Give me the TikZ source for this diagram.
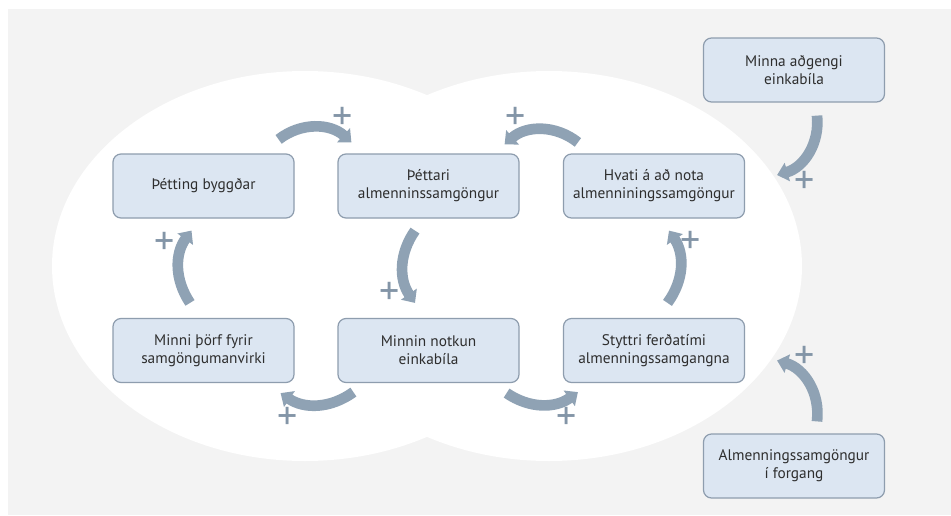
\documentclass[tikz,border=0pt]{standalone}
\usepackage{fontspec}
\setmainfont{PT Sans}
\usetikzlibrary{arrows.meta}
\definecolor{boxfill}{HTML}{DCE6F2}
\definecolor{boxline}{HTML}{8E9DAE}
\definecolor{arrowc}{HTML}{8FA2B4}
\definecolor{plusc}{HTML}{8395A7}
\definecolor{bggray}{HTML}{F3F3F3}
\definecolor{txt}{HTML}{2E2E2E}

\begin{document}
\begin{tikzpicture}[x=0.75pt,y=-0.75pt,
  box/.style={draw=boxline,line width=0.9pt,fill=boxfill,rounded corners=6pt,
    minimum width=135.75pt,minimum height=48pt,align=center,text=txt,
    font=\fontsize{11.5}{13.5}\selectfont},
  loop/.style={draw=arrowc,line width=8pt,-{Triangle[width=14pt,length=8pt]}},
  plus/.style={text=plusc,font=\fontsize{30}{30}\selectfont,inner sep=0pt}]
\useasboundingbox (0,0) rectangle (951,515);
\fill[bggray] (8,9) rectangle (951,515);
\fill[white] (305,266) ellipse [x radius=253,y radius=195];
\fill[white] (549,266) ellipse [x radius=253,y radius=195];

\node[box] (byggd) at (203.5,186) {Þétting byggðar};
\node[box] (thettari) at (428.5,186) {Þéttari\\almenninssamgöngur};
\node[box] (hvati) at (654,186) {Hvati á að nota\\almenniningssamgöngur};
\node[box] (minna) at (794,70) {Minna aðgengi\\einkabíla};
\node[box] (thorf) at (203.5,350.5) {Minni þörf fyrir\\samgöngumanvirki};
\node[box] (notkun) at (428.5,350.5) {Minnin notkun\\einkabíla};
\node[box] (styttri) at (654,350.5) {Styttri ferðatími\\almenningssamgangna};
\node[box] (forgang) at (794,466) {Almenningssamgöngur\\í forgang};

\draw[loop] ([shift={(-16,-14)}]byggd.north east) to[bend left=40] ([shift={(14,-11)}]thettari.north west);
\draw[loop] ([shift={(-13.5,12)}]thettari.south) to[bend right=35] ([shift={(-13.5,-15)}]notkun.north);
\draw[loop] ([shift={(16,9)}]notkun.south west) to[bend left=35] ([shift={(-14,10)}]thorf.south east);
\draw[loop] ([shift={(-13.5,-15)}]thorf.north) to[bend left=35] ([shift={(-12,12)}]byggd.south);
\draw[loop] ([shift={(-13,10)}]notkun.south east) to[bend right=35] ([shift={(15,9)}]styttri.south west);
\draw[loop] ([shift={(13.5,-15)}]styttri.north) to[bend right=35] ([shift={(15,12)}]hvati.south);
\draw[loop] ([shift={(15,-11)}]hvati.north west) to[bend right=40] ([shift={(-15,-9)}]thettari.north east);
\draw[loop] ([shift={(23,13)}]minna.south) to[bend left=40] ([shift={(32,-11)}]hvati.east);
\draw[loop] ([shift={(23,-12)}]forgang.north) to[bend right=40] ([shift={(32,10)}]styttri.east);

\foreach \x/\y [count=\i] in {343/118,390/293,288/418,165/243,567/418,691/242,516/118,805/182,805/357}
  \node[plus] (p\i) at (\x,\y) {+};
\end{tikzpicture}
\end{document}
